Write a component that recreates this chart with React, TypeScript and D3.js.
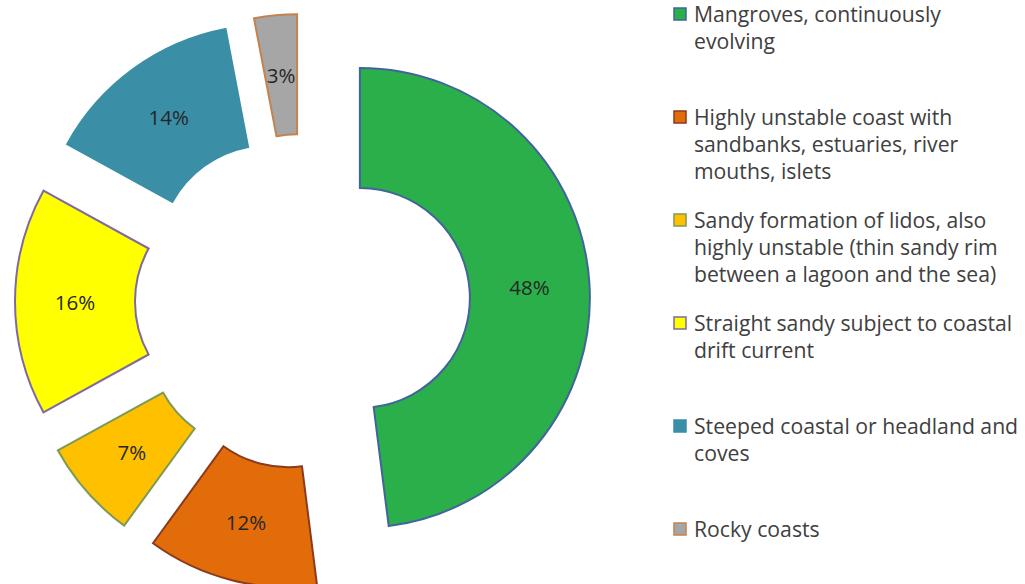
import React from "react";
import * as d3 from "d3";

const categories = [
  "Mangroves, continuously evolving",
  "Highly unstable coast with sandbanks, estuaries, river mouths, islets",
  "Sandy formation of lidos, also highly unstable (thin sandy rim between a lagoon and the sea)",
  "Straight sandy subject to coastal drift current",
  "Steeped coastal or headland and coves",
  "Rocky coasts",
];
const values = [48, 12, 7, 16, 14, 3];
const legendLines = [
  ["Mangroves, continuously", "evolving"],
  ["Highly unstable coast with", "sandbanks, estuaries, river", "mouths, islets"],
  ["Sandy formation of lidos, also", "highly unstable (thin sandy rim", "between a lagoon and the sea)"],
  ["Straight sandy subject to coastal", "drift current"],
  ["Steeped coastal or headland and", "coves"],
  ["Rocky coasts"],
];
const fills = ["#2BAF4A", "#E36C0A", "#FFC000", "#FFFF00", "#3A8FA6", "#A6A6A6"];
const strokes = ["#41659A", "#8A3B1E", "#7E9A55", "#7F6AA0", "#3A8FA6", "#C4824F"];

const W = 1025;
const H = 584;
const CX = 302.5;
const CY = 301.5;
const R_OUT = 230;
const R_IN = 110;
const EXPLODE = 57.5;

export default function App() {
  const pie = d3
    .pie<number>()
    .sort(null)
    .value((d) => d)
    .startAngle(0)
    .endAngle(2 * Math.PI);
  const arcs = pie(values);
  const arc = d3.arc<d3.PieArcDatum<number>>().innerRadius(R_IN).outerRadius(R_OUT);
  const labelArc = d3
    .arc<d3.PieArcDatum<number>>()
    .innerRadius((R_IN + R_OUT) / 2)
    .outerRadius((R_IN + R_OUT) / 2);
  const total = d3.sum(values);
  const fmt = d3.format(".0%");

  const legendX = 674;
  const legendTextX = 694;
  const legendTop = 22;
  const groupStep = 103;
  const lineH = 27;

  return (
    <svg
      width={W}
      height={H}
      style={{ position: "absolute", left: 0, top: 0, background: "#fff" }}
      fontFamily="'Open Sans', Lato, sans-serif"
    >
      <g>
        {arcs.map((a, i) => {
          const mid = (a.startAngle + a.endAngle) / 2;
          const dx = Math.sin(mid) * EXPLODE;
          const dy = -Math.cos(mid) * EXPLODE;
          const [lx, ly] = labelArc.centroid(a);
          return (
            <g key={categories[i]} transform={`translate(${CX + dx},${CY + dy})`}>
              <path
                d={arc(a) || ""}
                fill={fills[i]}
                stroke={strokes[i]}
                strokeWidth={2}
                strokeLinejoin="miter"
              />
              <text
                x={lx}
                y={ly}
                textAnchor="middle"
                dominantBaseline="central"
                fontSize={20.5}
                fill="#262626"
              >
                {fmt(a.data / total)}
              </text>
            </g>
          );
        })}
      </g>
      <g>
        {legendLines.map((lines, i) => {
          const base = legendTop + i * groupStep;
          return (
            <g key={categories[i]}>
              <rect
                x={legendX}
                y={base - 14}
                width={12}
                height={12}
                fill={fills[i]}
                stroke={strokes[i]}
                strokeWidth={1.5}
              />
              {lines.map((ln, j) => (
                <text key={j} x={legendTextX} y={base + j * lineH} fontSize={21.2} fill="#404040">
                  {ln}
                </text>
              ))}
            </g>
          );
        })}
      </g>
    </svg>
  );
}
